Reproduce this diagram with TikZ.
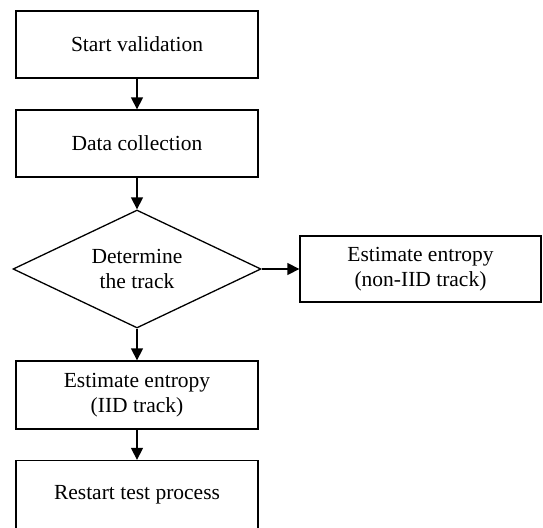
\documentclass[tikz,border=0pt]{standalone}
\usepackage{fontspec}
\setmainfont{Liberation Serif}
\usetikzlibrary{shapes.geometric,arrows.meta}
\begin{document}
\begin{tikzpicture}[x=1pt,y=-1pt,
  box/.style={draw,line width=1.3pt,minimum width=242pt,minimum height=67pt,inner sep=0pt,align=center,font=\fontsize{21.5}{25.5}\selectfont},
  dia/.style={draw,diamond,aspect=2.1,line width=1.3pt,minimum width=248pt,minimum height=118pt,inner sep=0pt,align=center,font=\fontsize{21.5}{25.5}\selectfont},
  arr/.style={line width=1.3pt,-{Triangle[length=12pt,width=12pt]}}]
\useasboundingbox (0,0) rectangle (543,527);
\begin{scope}
\clip (0,0) rectangle (543,527);
\node[box] (start) at (137,44.5) {Start validation};
\node[box] (data) at (137,143.5) {Data collection};
\node[dia] (det) at (137,269) {Determine\\the track};
\node[box,minimum width=241pt,minimum height=66pt] (non) at (420.5,269) {Estimate entropy\\(non-IID track)};
\node[box,minimum height=68pt] (iid) at (137,395) {Estimate entropy\\(IID track)};
\node[box,minimum height=68pt] (restart) at (137,494.5) {Restart test process};
\draw[arr] (start) -- (data);
\draw[arr] (data) -- (det);
\draw[arr] (det) -- (iid);
\draw[arr] (iid) -- (restart);
\draw[arr] (det) -- (non);
\end{scope}
\end{tikzpicture}
\end{document}
